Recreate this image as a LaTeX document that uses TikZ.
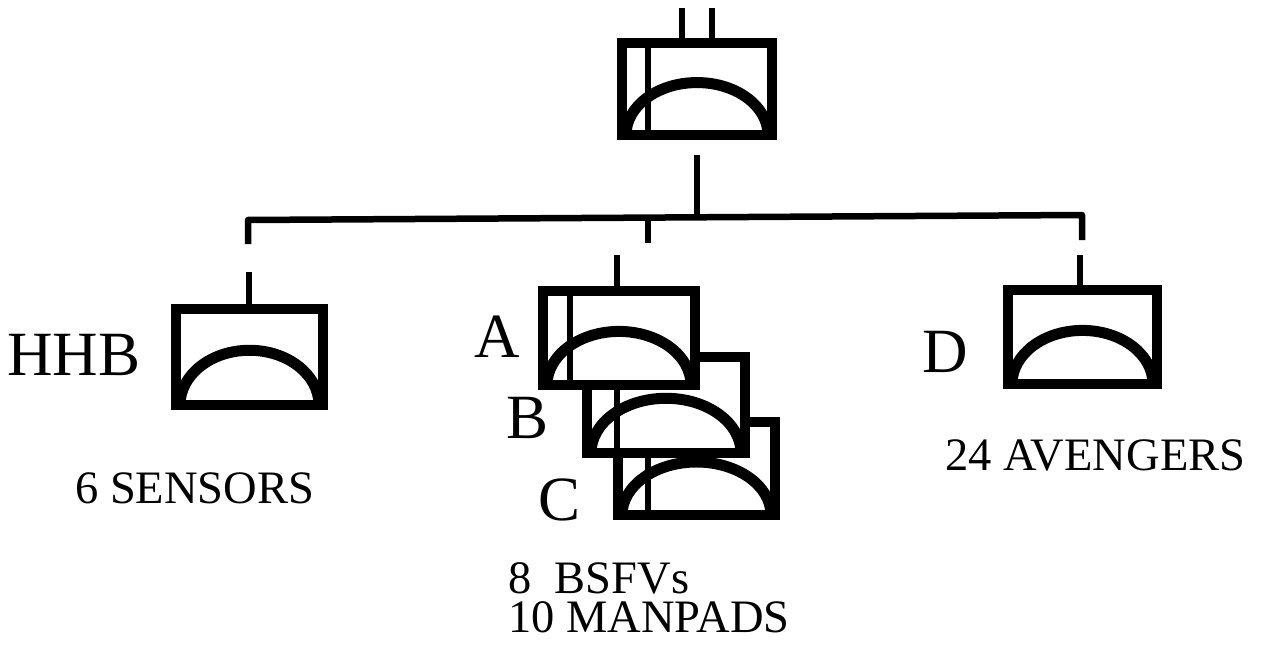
\documentclass[tikz,border=0pt]{standalone}
\usepackage{fontspec}
\setmainfont{Liberation Serif}
\tikzset{
  unitbox/.style n args={2}{draw, line width=10pt, fill=white, inner sep=0pt,
    minimum width=#1, minimum height=#2,
    path picture={\draw[line width=11pt] (path picture bounding box.south)
      ellipse[x radius=#1/2-4pt, y radius=0.57*#2];}},
  linedbox/.style n args={3}{unitbox={#1}{#2},
    path picture={
      \draw[line width=6pt] ([xshift=#3]path picture bounding box.north west)
        -- ([xshift=#3]path picture bounding box.south west);
      \draw[line width=11pt] (path picture bounding box.south)
        ellipse[x radius=#1/2-4pt, y radius=0.57*#2];}},
  wire/.style={line width=6.5pt, line join=round},
  lead/.style={line width=5.5pt},
  letter/.style={inner sep=0pt, anchor=base west, font=\fontsize{63pt}{63pt}\selectfont},
  count/.style={inner sep=0pt, anchor=base west, font=\fontsize{46.5pt}{39pt}\selectfont}
}
\begin{document}
\begin{tikzpicture}[x=1pt, y=-1pt]
  \useasboundingbox (0,0) rectangle (1265,666);

  % headquarters unit
  \node[linedbox={150pt}{92pt}{26pt}] (top) at (697,89) {};
  \coordinate (leadL) at (682,8);
  \coordinate (leadR) at (712,8);
  \draw[lead] (leadL) -- (leadL |- top.north);
  \draw[lead] (leadR) -- (leadR |- top.north);

  % distribution bus
  \coordinate (stemtop) at (697,155);
  \coordinate (busM) at (697,218);
  \coordinate (busL) at (248,220);
  \coordinate (busR) at (1082,215);
  \coordinate (dropL) at (248,244);
  \coordinate (dropR) at (1082,240);
  \coordinate (midtop) at (648,218);
  \coordinate (dropM) at (648,243);
  \draw[wire] (stemtop) -- (busM);
  \draw[wire] (dropL) -- (busL) -- (busR) -- (dropR);
  \draw[wire] (midtop) -- (dropM);

  % subordinate units
  \node[unitbox={147pt}{96pt}] (hhb) at (249.5,357) {};
  \node[unitbox={149pt}{94pt}] (unitD) at (1082.5,337) {};
  \node[linedbox={157pt}{93pt}{30pt}] (unitC) at (696.5,468.5) {};
  \node[linedbox={158pt}{96pt}{30pt}] (unitB) at (666,405) {};
  \node[linedbox={152pt}{94pt}{27pt}] (unitA) at (619,338) {};

  % stubs above the units
  \coordinate (hhbtip) at (249,272);
  \coordinate (Atip) at (617,255);
  \coordinate (Dtip) at (1080,255);
  \draw[wire] (hhbtip) -- (hhbtip |- hhb.north);
  \draw[wire] (Atip) -- (Atip |- unitA.north);
  \draw[wire] (Dtip) -- (Dtip |- unitD.north);

  % labels
  \node[letter] (lblHHB) at (7,375) {HHB};
  \node[letter] (lblA) at (474,357) {A};
  \node[letter] (lblB) at (506,438) {B};
  \node[letter] (lblC) at (538,520) {C};
  \node[letter] (lblD) at (922,372) {D};
  \node[count] (cntHHB) at (75,503) {6 SENSORS};
  \node[count] (cntD) at (945,470) {24 AVENGERS};
  \node[count] (cntBSFV) at (508,593) {8\ \ BSFVs};
  \node[count] (cntMAN) at (508,632) {10 MANPADS};
\end{tikzpicture}
\end{document}
